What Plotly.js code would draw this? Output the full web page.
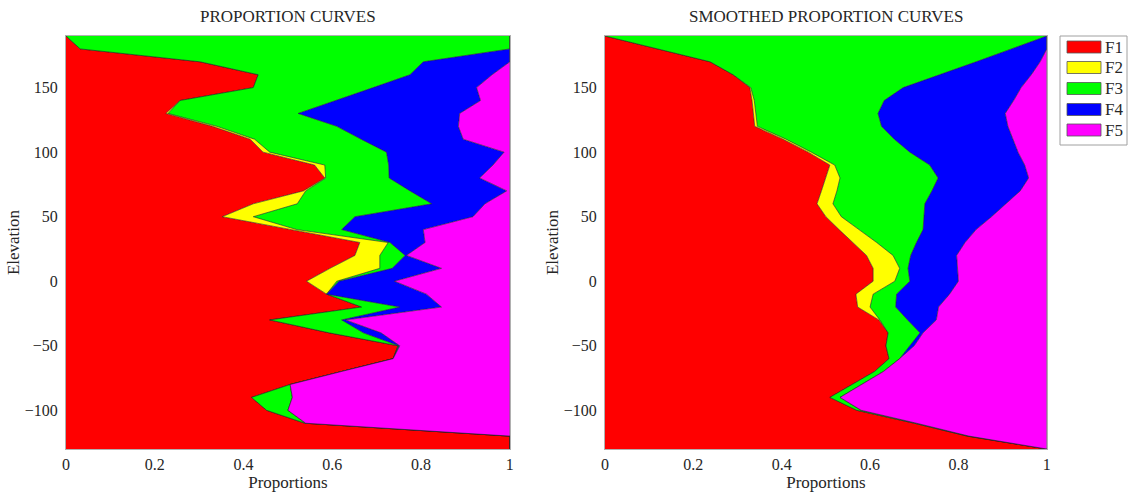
<!DOCTYPE html>
<html>
<head>
<meta charset="utf-8">
<script src="https://cdn.plot.ly/plotly-3.0.1.min.js"></script>
<style>html,body{margin:0;padding:0;background:#fff;}#chart{width:1128px;height:493px;}</style>
</head>
<body>
<div id="chart"></div>
<script>
// Elevations (bottom to top)
const elevation = [-130,-120,-110,-100,-90,-80,-70,-60,-50,-40,-30,-20,-10,0,10,20,30,40,50,60,70,80,90,100,110,120,130,140,150,160,170,180,190];

const facies = ['F1','F2','F3','F4','F5'];
const faciesColors = ['#ff0000','#ffff00','#00ff00','#0000ff','#ff00ff'];

// Raw proportion curves (per facies proportion at each elevation)
const rawF1 = [1,1,.538,.452,.418,.505,.62,.737,.748,.593,.459,.666,.587,.542,.595,.651,.662,.511,.352,.422,.535,.583,.56,.444,.415,.33,.225,.257,.422,.433,.302,.032,0];
const rawF2 = [0,0,0,0,0,0,0,0,0,0,0,0,0,.068,.112,.056,.064,.009,.07,.099,.005,.002,.023,.015,.01,.01,.005,0,0,0,0,0,0];
const rawF3 = [0,0,.002,.048,.092,0,0,0,.002,.077,.162,.086,0,.005,.028,.057,.004,.101,.229,.303,.235,.143,.144,.263,.24,.27,.293,.353,.27,.342,.503,.968,1];
const rawF4 = [0,0,0,0,0,0,0,0,.002,.04,.009,.094,.225,.125,.111,.003,.079,.184,.266,.12,.218,.204,.235,.265,.23,.274,.364,.324,.233,.185,.195,0,0];
const rawF5 = [0,0,.46,.5,.49,.495,.38,.263,.248,.29,.37,.154,.188,.26,.154,.233,.191,.195,.083,.056,.007,.068,.038,.013,.105,.116,.113,.066,.075,.04,0,0,0];

// Smoothed proportion curves
const smoF1 = [1,.82,.70,.57,.509,.56,.61,.643,.636,.641,.62,.572,.568,.607,.607,.592,.56,.53,.50,.48,.49,.50,.509,.46,.403,.339,.336,.333,.328,.29,.238,.12,0];
const smoF2 = [0,0,0,0,0,0,0,0,0,0,.002,.028,.039,.049,.06,.06,.055,.045,.035,.036,.035,.032,.011,.007,.007,.006,.005,.005,.002,0,0,0,0];
const smoF3 = [0,.004,.005,.01,.023,.02,.02,.024,.054,.072,.063,.058,.053,.034,.019,.04,.09,.145,.187,.208,.215,.222,.215,.223,.245,.281,.277,.294,.345,.47,.602,.80,1];
const smoF4 = [0,0,0,0,0,0,0,0,.01,.007,.065,.097,.12,.11,.112,.104,.11,.12,.153,.183,.20,.205,.215,.245,.269,.286,.288,.293,.267,.205,.145,.08,0];
const smoF5 = [0,.176,.295,.42,.468,.42,.37,.333,.30,.28,.25,.245,.22,.20,.202,.204,.185,.16,.125,.093,.06,.041,.05,.065,.076,.088,.094,.075,.058,.035,.015,0,0];

const xTicks = [0,0.2,0.4,0.6,0.8,1];
const xTickText = ['0','0.2','0.4','0.6','0.8','1'];
const yTicks = [-100,-50,0,50,100,150];

const rawSets = [rawF1, rawF2, rawF3, rawF4, rawF5];
const smoSets = [smoF1, smoF2, smoF3, smoF4, smoF5];

const traces = [];
rawSets.forEach((vals, i) => {
  traces.push({
    type: 'scatter', mode: 'lines', x: vals, y: elevation,
    stackgroup: 'raw', orientation: 'h',
    fillcolor: faciesColors[i], line: {color: '#222', width: 0.6},
    name: facies[i], showlegend: false,
    xaxis: 'x', yaxis: 'y', hoverinfo: 'skip'
  });
});
smoSets.forEach((vals, i) => {
  traces.push({
    type: 'scatter', mode: 'lines', x: vals, y: elevation,
    stackgroup: 'smo', orientation: 'h',
    fillcolor: faciesColors[i], line: {color: '#222', width: 0.6},
    name: facies[i], showlegend: false,
    xaxis: 'x2', yaxis: 'y2', hoverinfo: 'skip'
  });
});

const FF = 'Liberation Serif';
const TC = '#262626';
function xa(domain, anchor) {
  return {domain: domain, anchor: anchor, range: [0,1], tickvals: xTicks, ticktext: xTickText, showgrid: false, zeroline: false,
    showline: true, mirror: true, linecolor: '#b0b0b0', linewidth: 1, ticks: '', ticklabelstandoff: 1,
    tickfont: {family: FF, size: 16, color: TC},
    title: {text: 'Proportions', font: {family: FF, size: 17, color: TC}, standoff: 0}, fixedrange: true};
}
function ya(anchor) {
  return {domain: [0.0892, 0.927], range: [-130,190], tickvals: yTicks, showgrid: false, zeroline: false,
    showline: true, mirror: true, linecolor: '#b0b0b0', linewidth: 1, ticks: '', ticklabelstandoff: 4,
    tickfont: {family: FF, size: 16, color: TC}, anchor: anchor,
    title: {text: 'Elevation', font: {family: FF, size: 17, color: TC}, standoff: 0}, fixedrange: true};
}

// Legend drawn as a boxed key (paper coordinates)
const W = 1128, H = 493;
const px = v => v / W, py = v => 1 - v / H;
const shapes = [{type: 'rect', xref: 'paper', yref: 'paper', x0: px(1060), x1: px(1127), y0: py(145), y1: py(36),
  line: {color: '#a0a0a0', width: 1}, fillcolor: '#fff'}];
const annotations = [
  {text: 'PROPORTION CURVES', xref: 'paper', yref: 'paper', x: (0.0585+0.452)/2, y: py(17), xanchor: 'center', yanchor: 'middle', showarrow: false, font: {family: FF, size: 17, color: TC}},
  {text: 'SMOOTHED PROPORTION CURVES', xref: 'paper', yref: 'paper', x: (0.5363+0.928)/2, y: py(17), xanchor: 'center', yanchor: 'middle', showarrow: false, font: {family: FF, size: 17, color: TC}}
];
const legY = [47, 67.5, 88.5, 109.5, 130];
facies.forEach((f, i) => {
  shapes.push({type: 'rect', xref: 'paper', yref: 'paper', x0: px(1067), x1: px(1101), y0: py(legY[i] + 6), y1: py(legY[i] - 6),
    line: {color: '#555', width: 0.8}, fillcolor: faciesColors[i]});
  annotations.push({text: f, xref: 'paper', yref: 'paper', x: px(1103), y: py(legY[i]), xanchor: 'left', yanchor: 'middle',
    showarrow: false, font: {family: FF, size: 17, color: TC}});
});

const layout = {
  width: W, height: H, margin: {l: 0, r: 0, t: 0, b: 0},
  paper_bgcolor: '#fff', plot_bgcolor: '#fff', font: {family: FF, size: 16, color: TC},
  xaxis: xa([0.0585, 0.452], 'y'),
  yaxis: ya('x'),
  xaxis2: xa([0.5363, 0.928], 'y2'),
  yaxis2: ya('x2'),
  showlegend: false,
  shapes: shapes,
  annotations: annotations
};
Plotly.newPlot('chart', traces, layout, {staticPlot: true, displayModeBar: false});
</script>
</body>
</html>
